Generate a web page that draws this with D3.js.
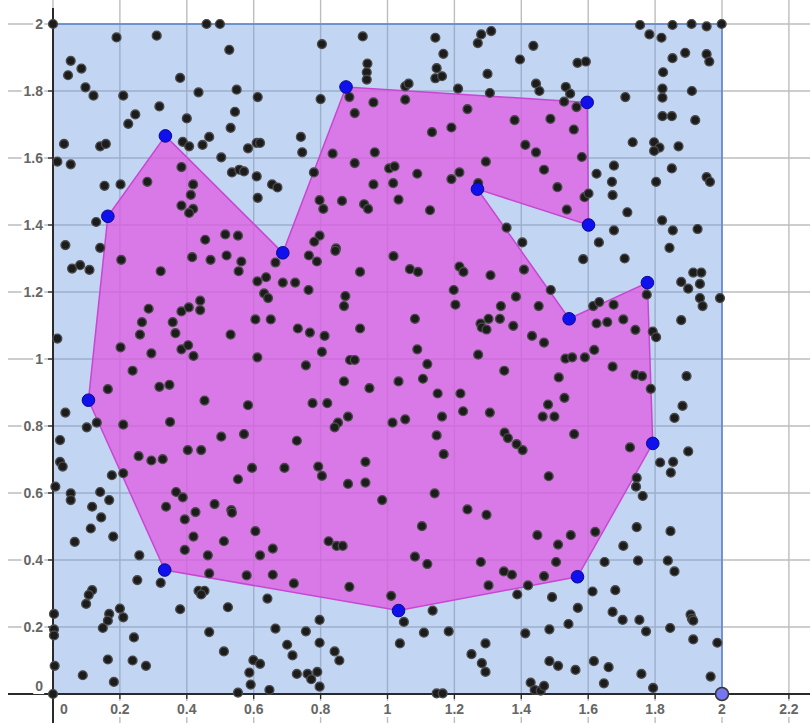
<!DOCTYPE html>
<html>
<head>
<meta charset="utf-8">
<script src="https://cdn.jsdelivr.net/npm/d3@7"></script>
<style>
html,body{margin:0;padding:0;background:#fff;}
svg{display:block;}
</style>
</head>
<body>
<svg id="chart" width="810" height="723"></svg>
<script>
// ---- data ----
const xTicks = [0, 0.2, 0.4, 0.6, 0.8, 1, 1.2, 1.4, 1.6, 1.8, 2, 2.2];
const yTicks = [0, 0.2, 0.4, 0.6, 0.8, 1, 1.2, 1.4, 1.6, 1.8, 2];
const xTickLabels = ["0","0.2","0.4","0.6","0.8","1","1.2","1.4","1.6","1.8","2","2.2"];
const yTickLabels = ["0","0.2","0.4","0.6","0.8","1","1.2","1.4","1.6","1.8","2"];
const squareCorners = [[0,0],[2,0],[2,2],[0,2]];
const hullPoints = [[0.336,1.666],[0.687,1.317],[0.876,1.812],[1.597,1.766],[1.601,1.400],[1.269,1.507],[1.543,1.120],[1.777,1.228],[1.793,0.748],[1.568,0.350],[1.033,0.249],[0.334,0.370],[0.106,0.877],[0.164,1.426]];
const cornerPoint = [2, 0];
const points = [
[0,2.0],[0.459,2.0],[0.499,2.0],[0.190,1.96],[0.310,1.965],[0.527,1.923],[0.053,1.89],[0.085,1.867],[0.045,1.847],[0.380,1.839],[0.097,1.811],[0.121,1.786],[0.210,1.786],[0.435,1.796],[0.549,1.804],[0.612,1.782],[0.318,1.754],[0.246,1.730],[0.225,1.702],[0.400,1.718],[0.544,1.738],[0.531,1.690],[0.033,1.642],[0.141,1.635],[0.158,1.642],[0.388,1.648],[0.407,1.635],[0.447,1.639],[0.467,1.663],[0.583,1.629],[0.609,1.645],[0.619,1.645],[0.503,1.602],[0.013,1.589],[0.053,1.581],[0.384,1.573],[0.535,1.557],[0.557,1.565],[0.571,1.560],[0.609,1.545],[0.154,1.517],[0.202,1.521],[0.282,1.529],[0.419,1.521],[0.412,1.490],[0.384,1.458],[0.419,1.448],[0.407,1.436],[0.612,1.481],[0.655,1.521],[0.671,1.512],[0.129,1.409],[0.455,1.356],[0.515,1.372],[0.553,1.368],[0.037,1.340],[0.141,1.332],
[0.804,1.940],[0.926,1.963],[1.143,1.959],[1.167,1.911],[1.280,1.969],[1.310,1.979],[1.270,1.943],[0.940,1.882],[0.938,1.856],[0.938,1.834],[1.147,1.868],[1.143,1.838],[1.163,1.844],[1.299,1.851],[1.053,1.814],[1.063,1.822],[1.211,1.807],[1.306,1.794],[0.800,1.776],[0.886,1.782],[0.958,1.766],[1.053,1.774],[0.902,1.734],[1.239,1.746],[1.191,1.691],[1.133,1.677],[0.741,1.663],[0.745,1.617],[0.836,1.613],[0.962,1.617],[0.902,1.585],[1.005,1.569],[1.021,1.575],[1.089,1.553],[1.191,1.537],[1.215,1.557],[1.294,1.589],[0.780,1.557],[0.958,1.521],[1.017,1.525],[1.271,1.525],[0.797,1.474],[0.808,1.448],[0.864,1.472],[0.930,1.462],[0.942,1.448],[1.033,1.476],[1.127,1.444],[1.356,1.392],[0.797,1.368],[0.781,1.350],[0.846,1.330],
[1.755,1.997],[1.852,1.997],[1.909,2.0],[1.954,1.993],[1.999,2.0],[1.783,1.969],[1.819,1.959],[1.436,1.935],[1.396,1.894],[1.568,1.884],[1.593,1.888],[1.852,1.898],[1.890,1.914],[1.954,1.910],[1.962,1.888],[1.824,1.856],[1.444,1.822],[1.454,1.800],[1.533,1.812],[1.546,1.792],[1.528,1.768],[1.565,1.752],[1.822,1.807],[1.822,1.780],[1.910,1.800],[1.711,1.782],[1.822,1.725],[1.850,1.725],[1.920,1.713],[1.380,1.713],[1.487,1.717],[1.557,1.685],[1.412,1.639],[1.444,1.617],[1.733,1.647],[1.797,1.647],[1.813,1.631],[1.797,1.621],[1.870,1.635],[1.581,1.603],[1.468,1.565],[1.677,1.577],[1.625,1.553],[1.671,1.529],[1.850,1.569],[1.954,1.543],[1.964,1.529],[1.803,1.529],[1.508,1.513],[1.589,1.483],[1.601,1.494],[1.673,1.489],[1.536,1.446],[1.717,1.438],[1.403,1.348],[1.632,1.348],[1.677,1.384],[1.821,1.414],[1.853,1.384],[1.927,1.388],[1.843,1.332],
[0.057,1.270],[0.081,1.280],[0.109,1.266],[0.204,1.296],[0.322,1.262],[0.416,1.304],[0.471,1.296],[0.519,1.309],[0.563,1.291],[0.555,1.262],[0.611,1.232],[0.637,1.244],[0.665,1.288],[0.631,1.196],[0.643,1.182],[0.286,1.150],[0.266,1.110],[0.260,1.073],[0.384,1.142],[0.406,1.154],[0.440,1.174],[0.440,1.146],[0.358,1.110],[0.366,1.077],[0.013,1.061],[0.202,1.035],[0.294,1.017],[0.384,1.029],[0.404,1.041],[0.420,1.009],[0.531,1.073],[0.605,1.118],[0.651,1.118],[0.611,1.005],[0.238,0.965],[0.164,0.910],[0.318,0.917],[0.348,0.923],[0.453,0.876],[0.583,0.862],[0.037,0.840],[0.101,0.796],[0.131,0.810],[0.210,0.804],[0.350,0.812],[0.571,0.776],[0.503,0.768],[0.021,0.758],[0.403,0.728],[0.443,0.728],[0.256,0.710],[0.294,0.697],[0.328,0.701],[0.021,0.693],[0.029,0.679],[0.595,0.675],[0.176,0.653],[0.210,0.659],[0.553,0.641],
[0.765,1.309],[0.789,1.291],[0.844,1.323],[1.018,1.307],[1.067,1.268],[1.091,1.260],[1.215,1.276],[1.227,1.260],[1.308,1.250],[0.918,1.260],[0.687,1.228],[0.724,1.228],[0.764,1.206],[0.874,1.188],[0.870,1.158],[1.198,1.206],[1.203,1.162],[1.339,1.158],[0.732,1.091],[0.768,1.079],[0.812,1.069],[0.918,1.091],[1.082,1.120],[1.278,1.106],[1.282,1.094],[1.296,1.088],[1.302,1.120],[1.336,1.120],[0.804,1.021],[1.089,1.029],[0.888,0.997],[0.902,0.997],[0.756,0.981],[1.119,0.985],[1.271,1.013],[1.349,0.965],[0.870,0.933],[0.946,0.913],[1.033,0.933],[1.106,0.941],[1.150,0.897],[1.218,0.897],[0.776,0.868],[0.820,0.868],[1.226,0.844],[1.306,0.840],[1.163,0.828],[0.882,0.828],[0.852,0.810],[0.842,0.796],[1.015,0.810],[1.053,0.820],[1.147,0.772],[1.168,0.716],[1.350,0.780],[1.360,0.764],[0.729,0.756],[0.692,0.675],[0.793,0.679],[0.934,0.693],[0.804,0.651],
[1.585,1.298],[1.709,1.300],[1.408,1.267],[1.914,1.258],[1.938,1.258],[1.878,1.230],[1.934,1.224],[1.899,1.210],[1.775,1.192],[1.934,1.182],[1.942,1.158],[1.994,1.182],[1.488,1.206],[1.384,1.186],[1.452,1.158],[1.615,1.158],[1.633,1.170],[1.676,1.162],[1.376,1.099],[1.625,1.106],[1.657,1.110],[1.705,1.118],[1.741,1.087],[1.793,1.082],[1.803,1.065],[1.878,1.116],[1.432,1.069],[1.468,1.049],[1.532,1.001],[1.552,1.005],[1.590,1.005],[1.618,1.027],[1.673,0.977],[1.512,0.945],[1.741,0.953],[1.761,0.949],[1.787,0.911],[1.894,0.949],[1.529,0.884],[1.480,0.864],[1.464,0.828],[1.499,0.828],[1.882,0.860],[1.858,0.824],[1.386,0.746],[1.404,0.728],[1.558,0.776],[1.725,0.736],[1.899,0.724],[1.815,0.691],[1.854,0.693],[1.847,0.661],[1.745,0.645],[1.482,0.650],
[0.007,0.619],[0.053,0.599],[0.053,0.579],[0.141,0.603],[0.168,0.579],[0.117,0.559],[0.144,0.527],[0.113,0.494],[0.065,0.454],[0.180,0.470],[0.368,0.603],[0.388,0.587],[0.338,0.559],[0.426,0.543],[0.483,0.567],[0.533,0.549],[0.535,0.541],[0.394,0.521],[0.605,0.486],[0.420,0.470],[0.511,0.456],[0.394,0.430],[0.463,0.414],[0.619,0.414],[0.657,0.434],[0.258,0.414],[0.467,0.360],[0.579,0.354],[0.657,0.356],[0.252,0.340],[0.322,0.332],[0.435,0.308],[0.453,0.308],[0.443,0.297],[0.641,0.285],[0.117,0.310],[0.107,0.296],[0.099,0.269],[0.380,0.253],[0.523,0.259],[0.003,0.239],[0.200,0.255],[0.168,0.239],[0.210,0.229],[0.164,0.219],[0.149,0.197],[0.003,0.193],[0.003,0.175],[0.665,0.195],[0.467,0.185],[0.242,0.169],[0.511,0.127],[0.164,0.103],[0.238,0.100],[0.278,0.084],[0.005,0.084],[0.089,0.056],[0.182,0.036],[0.599,0.101],[0.619,0.090],[0.587,0.064],[0.591,0.028],[0.553,0.004],[0.647,0.012],[0,0],
[0.882,0.627],[0.934,0.631],[0.984,0.579],[1.141,0.599],[1.239,0.551],[1.296,0.535],[1.103,0.501],[0.824,0.456],[0.848,0.442],[0.866,0.442],[1.082,0.410],[1.119,0.388],[1.279,0.394],[1.348,0.366],[0.720,0.330],[0.886,0.320],[1.302,0.324],[1.011,0.293],[1.049,0.215],[1.135,0.249],[0.797,0.221],[0.756,0.187],[1.109,0.183],[1.183,0.187],[0.700,0.147],[0.716,0.115],[0.797,0.153],[0.842,0.127],[0.856,0.100],[1.037,0.151],[1.293,0.151],[1.251,0.119],[1.282,0.092],[1.293,0.066],[0.729,0.060],[0.761,0.060],[0.790,0.066],[0.772,0.044],[0.797,0.022],[1.147,0.002],[1.165,0.002],
[1.743,0.619],[1.763,0.591],[1.745,0.498],[1.846,0.486],[1.705,0.442],[1.649,0.394],[1.749,0.398],[1.838,0.398],[1.858,0.366],[1.448,0.474],[1.548,0.474],[1.621,0.484],[1.510,0.446],[1.504,0.394],[1.372,0.356],[1.468,0.352],[1.420,0.324],[1.388,0.297],[1.492,0.289],[1.613,0.306],[1.681,0.310],[1.569,0.257],[1.673,0.245],[1.703,0.221],[1.753,0.221],[1.773,0.187],[1.845,0.197],[1.906,0.237],[1.910,0.225],[1.914,0.219],[1.914,0.163],[1.986,0.153],[1.412,0.181],[1.484,0.193],[1.541,0.209],[1.484,0.098],[1.510,0.084],[1.562,0.072],[1.617,0.098],[1.661,0.080],[1.759,0.060],[1.966,0.052],[1.428,0.034],[1.440,0.012],[1.458,0.010],[1.468,0.024],[1.647,0.032],[1.794,0.018]
];

// ---- drawing ----
const W = 810, H = 723;
const svg = d3.select("#chart");
const x = d3.scaleLinear().domain([0, 2]).range([53, 722]);
const y = d3.scaleLinear().domain([0, 2]).range([694, 24]);

svg.append("rect").attr("width", W).attr("height", H).attr("fill", "#ffffff");

// grid
const grid = svg.append("g");
grid.selectAll("line.gx").data(xTicks).enter().append("line")
  .attr("x1", d => x(d)).attr("x2", d => x(d))
  .attr("y1", 0).attr("y2", H)
  .attr("stroke", "#bdbdbd").attr("stroke-width", 1.4);
grid.selectAll("line.gy").data(yTicks).enter().append("line")
  .attr("x1", 8).attr("x2", W)
  .attr("y1", d => y(d)).attr("y2", d => y(d))
  .attr("stroke", "#bdbdbd").attr("stroke-width", 1.4);

// blue square
const line = d3.line().x(d => x(d[0])).y(d => y(d[1])).curve(d3.curveLinearClosed);
svg.append("path").attr("d", line(squareCorners))
  .attr("fill", "rgba(110,155,225,0.42)")
  .attr("stroke", "rgba(95,135,205,0.8)").attr("stroke-width", 2);

// magenta polygon
svg.append("path").attr("d", line(hullPoints))
  .attr("fill", "rgba(226,86,226,0.72)")
  .attr("stroke", "#c847d2").attr("stroke-width", 1.5);

// axes
const axisColor = "#2a2a2a";
svg.append("line").attr("x1", 8).attr("x2", W).attr("y1", y(0)).attr("y2", y(0))
  .attr("stroke", axisColor).attr("stroke-width", 2);
svg.append("line").attr("x1", x(0)).attr("x2", x(0)).attr("y1", 8).attr("y2", H)
  .attr("stroke", axisColor).attr("stroke-width", 2);

// tick marks
svg.selectAll("line.tx").data(xTicks.filter(d => d !== 0)).enter().append("line")
  .attr("x1", d => x(d)).attr("x2", d => x(d)).attr("y1", y(0)).attr("y2", y(0) + 5)
  .attr("stroke", axisColor).attr("stroke-width", 1.3);
svg.selectAll("line.ty").data(yTicks.filter(d => d !== 0)).enter().append("line")
  .attr("x1", x(0) - 5).attr("x2", x(0)).attr("y1", d => y(d)).attr("y2", d => y(d))
  .attr("stroke", axisColor).attr("stroke-width", 1.3);

// tick labels with white backgrounds
const fontFam = "'Liberation Sans', Arial, sans-serif";
const xl = svg.append("g");
xTicks.forEach((t, i) => {
  const cx = t === 0 ? x(0) + 11 : x(t);
  const g = xl.append("g");
  const txt = g.append("text").attr("x", cx).attr("y", 714)
    .attr("text-anchor", "middle").attr("font-family", fontFam)
    .attr("font-size", 14).attr("font-weight", "bold").attr("fill", "#666")
    .text(xTickLabels[i]);
  const bb = txt.node().getBBox();
  g.insert("rect", "text").attr("x", bb.x - 1).attr("y", bb.y).attr("width", bb.width + 2).attr("height", bb.height)
    .attr("fill", "#fff");
});
const yl = svg.append("g");
yTicks.forEach((t, i) => {
  const cy = t === 0 ? y(0) - 8 : y(t);
  const g = yl.append("g");
  const txt = g.append("text").attr("x", 43).attr("y", cy).attr("dy", "0.36em")
    .attr("text-anchor", "end").attr("font-family", fontFam)
    .attr("font-size", 14).attr("font-weight", "bold").attr("fill", "#666")
    .text(yTickLabels[i]);
  const bb = txt.node().getBBox();
  g.insert("rect", "text").attr("x", bb.x - 2).attr("y", bb.y).attr("width", bb.width + 3).attr("height", bb.height)
    .attr("fill", "#fff");
});

// black points
svg.append("g").selectAll("circle").data(points).enter().append("circle")
  .attr("cx", d => x(d[0])).attr("cy", d => y(d[1])).attr("r", 4.4)
  .attr("fill", "#1c1c1c").attr("stroke", "#4a4a4a").attr("stroke-width", 1.4);

// hull vertices
svg.append("g").selectAll("circle").data(hullPoints).enter().append("circle")
  .attr("cx", d => x(d[0])).attr("cy", d => y(d[1])).attr("r", 6.3)
  .attr("fill", "#1010ee").attr("stroke", "#0a0a8a").attr("stroke-width", 1);

// corner point
svg.append("circle").attr("cx", x(cornerPoint[0])).attr("cy", y(cornerPoint[1])).attr("r", 6.5)
  .attr("fill", "#7676ee").attr("stroke", "#333").attr("stroke-width", 1.5);
</script>
</body>
</html>
